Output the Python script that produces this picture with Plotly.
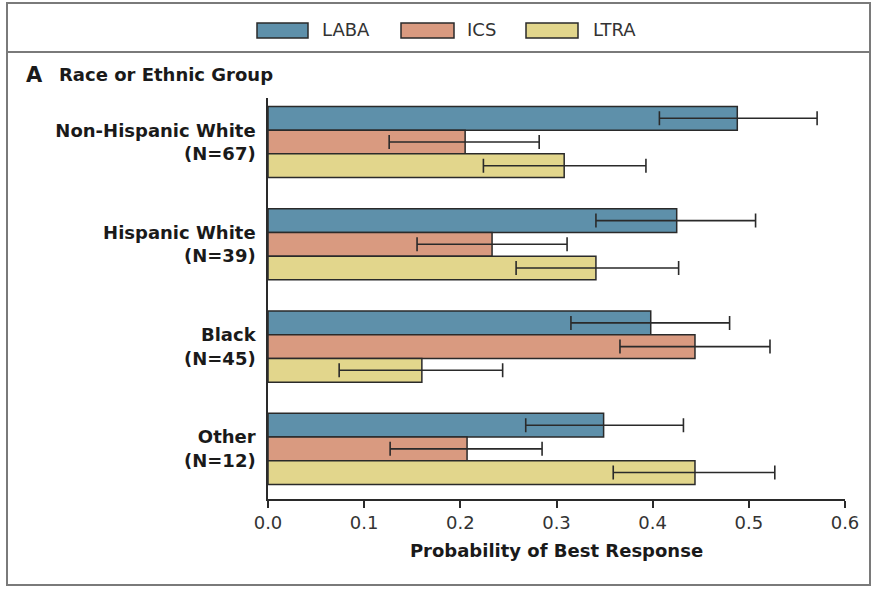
import plotly.graph_objects as go

# ---- data ----
categories = ["Non-Hispanic White<br>(N=67)", "Hispanic White<br>(N=39)",
              "Black<br>(N=45)", "Other<br>(N=12)"]
series_names = ["LABA", "ICS", "LTRA"]
laba = [0.488, 0.425, 0.398, 0.349]
laba_lo = [0.407, 0.341, 0.315, 0.268]
laba_hi = [0.571, 0.507, 0.480, 0.432]
ics = [0.205, 0.233, 0.444, 0.207]
ics_lo = [0.126, 0.155, 0.366, 0.127]
ics_hi = [0.282, 0.311, 0.522, 0.285]
ltra = [0.308, 0.341, 0.160, 0.444]
ltra_lo = [0.224, 0.258, 0.074, 0.359]
ltra_hi = [0.393, 0.427, 0.244, 0.527]
x_ticks = [0.0, 0.1, 0.2, 0.3, 0.4, 0.5, 0.6]
x_tick_labels = ["0.0", "0.1", "0.2", "0.3", "0.4", "0.5", "0.6"]

colors = ["#5e90aa", "#d99a80", "#e2d68c"]
FONT = "DejaVu Sans"
W, H = 879, 589
ML, MR, MT, MB = 268, 34, 98, 90
PW, PH = W - ML - MR, H - MT - MB


def px(xp):
    return (xp - ML) / PW


def py(yp):
    return (H - MB - yp) / PH


fig = go.Figure()
for name, vals, lo, hi, col in [
    (series_names[0], laba, laba_lo, laba_hi, colors[0]),
    (series_names[1], ics, ics_lo, ics_hi, colors[1]),
    (series_names[2], ltra, ltra_lo, ltra_hi, colors[2]),
]:
    fig.add_trace(go.Bar(
        name=name, y=categories, x=vals, orientation="h",
        marker=dict(color=col, line=dict(color="#2a2a2a", width=1.5)),
        error_x=dict(type="data", symmetric=False,
                     array=[h - v for h, v in zip(hi, vals)],
                     arrayminus=[v - l for v, l in zip(vals, lo)],
                     color="#2a2a2a", thickness=1.6, width=7),
        showlegend=False,
    ))

shapes = []
annotations = []
# outer frame and legend separator
shapes.append(dict(type="rect", xref="paper", yref="paper",
                   x0=px(7), x1=px(870), y0=py(3), y1=py(585),
                   line=dict(color="#7a7a7a", width=2)))
shapes.append(dict(type="line", xref="paper", yref="paper",
                   x0=px(7), x1=px(870), y0=py(52), y1=py(52),
                   line=dict(color="#7a7a7a", width=2)))
# manual legend
leg = [(257, 308, 346, "LABA"), (401, 454, 481, "ICS"), (526, 578, 614, "LTRA")]
for (s0, s1, tx, lab), col in zip(leg, colors):
    shapes.append(dict(type="rect", xref="paper", yref="paper",
                       x0=px(s0), x1=px(s1), y0=py(23), y1=py(38),
                       fillcolor=col, line=dict(color="#2a2a2a", width=1.5)))
    annotations.append(dict(xref="paper", yref="paper", x=px(tx), y=py(30),
                            text=lab, showarrow=False, xanchor="center",
                            yanchor="middle",
                            font=dict(family=FONT, size=18, color="#333333")))
annotations.append(dict(xref="paper", yref="paper", x=px(24), y=py(75),
                        text="<b>A</b>", showarrow=False, xanchor="left",
                        yanchor="middle",
                        font=dict(family=FONT, size=21, color="#1a1a1a")))
annotations.append(dict(xref="paper", yref="paper", x=px(57), y=py(75),
                        text="<b>Race or Ethnic Group</b>", showarrow=False,
                        xanchor="left", yanchor="middle",
                        font=dict(family=FONT, size=18, color="#1a1a1a")))

fig.update_layout(
    width=W, height=H,
    margin=dict(l=ML, r=MR, t=MT, b=MB),
    paper_bgcolor="white", plot_bgcolor="white",
    barmode="group", bargap=0.305, bargroupgap=0,
    shapes=shapes, annotations=annotations,
    xaxis=dict(range=[0, 0.6], tickvals=x_ticks, ticktext=x_tick_labels,
               showline=True, linecolor="#2a2a2a", linewidth=1.5,
               ticks="outside", ticklen=7, tickwidth=1.5, tickcolor="#2a2a2a",
               showgrid=False, zeroline=False,
               tickfont=dict(family=FONT, size=18, color="#333333"),
               title=dict(text="<b>Probability of Best Response</b>",
                          font=dict(family=FONT, size=18, color="#1a1a1a"),
                          standoff=12)),
    yaxis=dict(categoryorder="array", categoryarray=categories,
               range=[3.49, -0.43], showline=True, linecolor="#2a2a2a",
               linewidth=1.5, ticks="", showgrid=False, zeroline=False,
               ticklabelstandoff=7,
               tickfont=dict(family=FONT, size=18, color="#1a1a1a",
                             weight="bold")),
)
fig.write_html("out.html")
